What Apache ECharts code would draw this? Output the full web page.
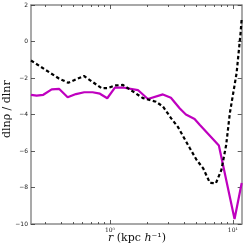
<!DOCTYPE html>
<html>
<head>
<meta charset="utf-8">
<script src="https://cdn.jsdelivr.net/npm/echarts@6/dist/echarts.min.js"></script>
<style>html,body{margin:0;padding:0;background:#fff}#c{width:246px;height:251px}</style>
</head>
<body>
<div id="c"></div>
<script>
// Magenta (solid) profile: radius r [kpc/h] and slope values
const magentaR = [0.228, 0.2535, 0.287, 0.336, 0.387, 0.453, 0.529, 0.618, 0.723, 0.829, 0.951, 1.098, 1.276, 1.689, 2.037, 2.697, 3.133, 3.688, 4.149, 4.882, 5.393, 6.877, 7.694, 10.32, 11.8];
const magentaV = [-2.92, -2.97, -2.92, -2.62, -2.60, -3.06, -2.88, -2.78, -2.78, -2.86, -3.11, -2.53, -2.52, -2.66, -3.15, -2.90, -3.08, -3.66, -4.00, -4.25, -4.58, -5.34, -5.70, -9.73, -7.75];
// Black (dashed) profile
const blackR = [0.228, 0.385, 0.458, 0.615, 0.856, 0.963, 1.098, 1.276, 1.855, 2.366, 2.697, 3.151, 3.572, 4.471, 5.07, 5.735, 6.501, 7.275, 8.064, 8.822, 9.454, 10.72, 11.55, 11.8];
const blackV = [-1.04, -2.03, -2.26, -1.89, -2.56, -2.55, -2.41, -2.38, -3.10, -3.30, -3.56, -4.21, -4.68, -5.85, -6.49, -6.95, -7.74, -7.77, -7.04, -5.67, -3.92, -1.74, 0.45, 1.26];
// Axis ticks
const xMajorTicks = [1, 10];
const xMinorTicks = [0.3, 0.4, 0.5, 0.6, 0.7, 0.8, 0.9, 2, 3, 4, 5, 6, 7, 8, 9];
const yTicks = [-10, -8, -6, -4, -2, 0, 2];

const X_MIN = 0.228, X_MAX = 11.8;
const frameColor = '#8c8c8c';
const pair = (xs, ys) => xs.map((x, i) => [x, ys[i]]);

function xAxisDef(pos, major, showLine, showLabel) {
  return {
    type: 'log', logBase: 10, min: X_MIN, max: X_MAX, position: pos,
    axisLine: { show: showLine, onZero: false, lineStyle: { color: frameColor, width: 1.5 } },
    axisTick: { show: true, inside: true, length: major ? 4 : 2,
      customValues: major ? xMajorTicks : xMinorTicks,
      lineStyle: { color: '#333', width: 0.8 } },
    minorTick: { show: false },
    axisLabel: { show: showLabel, customValues: xMajorTicks, margin: 3,
      fontFamily: 'DejaVu Serif', fontSize: 6, color: '#222',
      formatter: v => (Math.round(Math.log10(v)) === 0 ? '10\u2070' : '10\u00b9') },
    splitLine: { show: false }
  };
}
function yAxisDef(pos, showLabel) {
  return {
    type: 'value', min: yTicks[0], max: yTicks[yTicks.length - 1], interval: 2, position: pos,
    axisLine: { show: true, onZero: false, lineStyle: { color: frameColor, width: 1.5 } },
    axisTick: { show: true, inside: true, length: 4, lineStyle: { color: '#333', width: 0.8 } },
    axisLabel: { show: showLabel, margin: 3, fontFamily: 'DejaVu Sans', fontSize: 6, color: '#222',
      formatter: v => (v < 0 ? '\u2212' + Math.abs(v) : String(v)) },
    splitLine: { show: false }
  };
}

const chart = echarts.init(document.getElementById('c'), null, { renderer: 'canvas' });
chart.setOption({
  animation: false,
  backgroundColor: '#fff',
  grid: { left: 31, right: 4.3, top: 5, bottom: 27, containLabel: false },
  xAxis: [
    xAxisDef('bottom', true, true, true),
    xAxisDef('bottom', false, false, false),
    xAxisDef('top', true, true, false),
    xAxisDef('top', false, false, false)
  ],
  yAxis: [yAxisDef('left', true), yAxisDef('right', false)],
  graphic: [
    { type: 'text', left: 108, top: 233,
      style: { text: '{i|r} (kpc {i|h}\u207b\u00b9)', fill: '#111',
        font: '11px "DejaVu Serif"',
        rich: { i: { fontStyle: 'italic', fontFamily: 'DejaVu Serif', fontSize: 11 } } } },
    { type: 'text', x: 2, y: 138, rotation: Math.PI / 2,
      style: { text: 'dln\u03c1 / dlnr', fill: '#111', font: '11px "DejaVu Serif"' } }
  ],
  series: [
    { type: 'line', xAxisIndex: 0, yAxisIndex: 0, data: pair(blackR, blackV),
      showSymbol: false, lineStyle: { color: '#000', width: 2.2, type: [3.5, 2.5] }, z: 3 },
    { type: 'line', xAxisIndex: 0, yAxisIndex: 0, data: pair(magentaR, magentaV),
      showSymbol: false, lineStyle: { color: '#bf00bf', width: 2.2 }, z: 2 }
  ]
});
</script>
</body>
</html>
